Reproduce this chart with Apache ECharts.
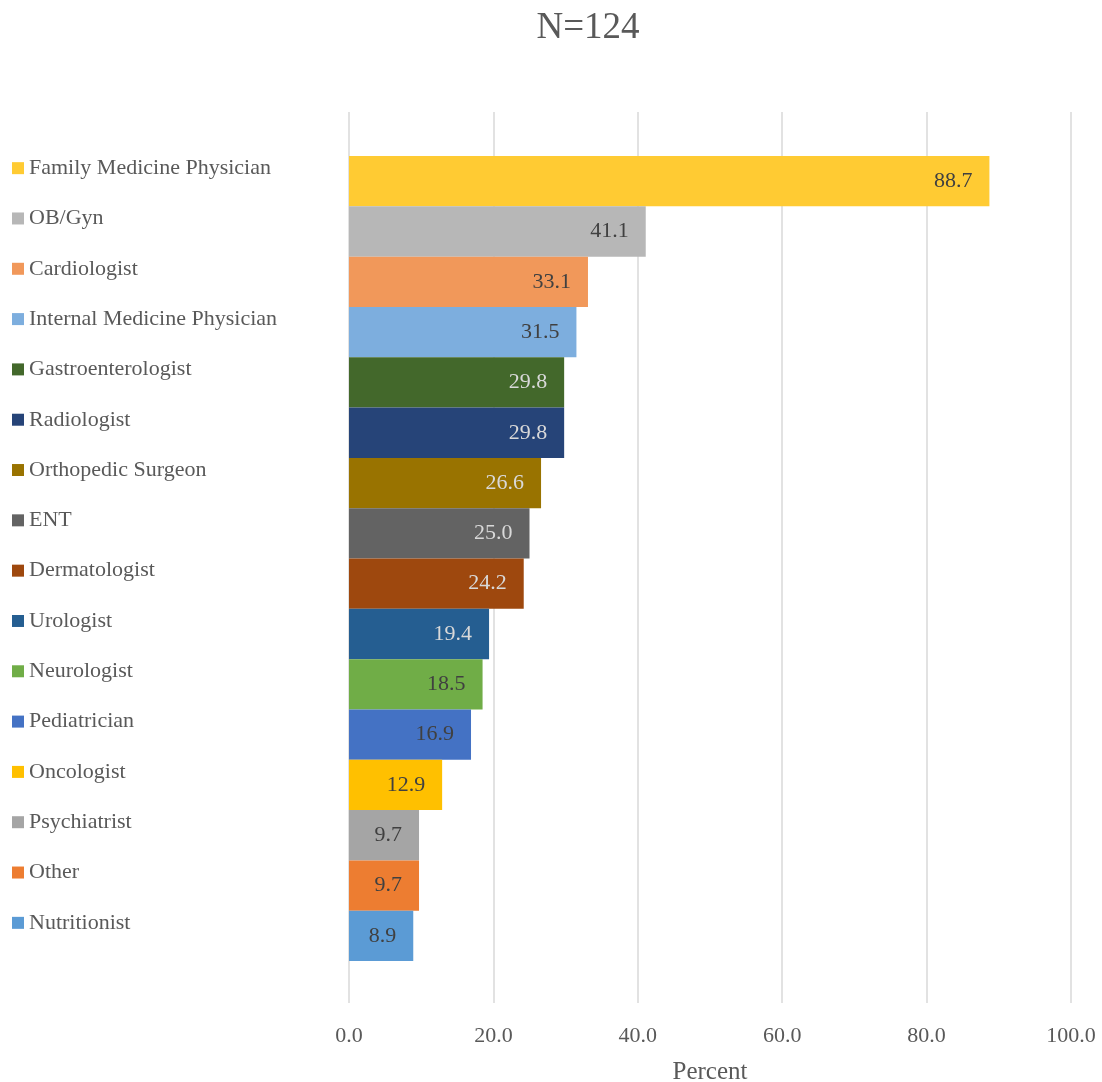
<!DOCTYPE html>
<html>
<head>
<meta charset="utf-8">
<style>
  html, body { margin: 0; padding: 0; background: #fff; }
  #chart { width: 1102px; height: 1082px; }
</style>
<script src="https://cdn.jsdelivr.net/npm/echarts@6/dist/echarts.min.js"></script>
</head>
<body>
<div id="chart"></div>
<script>
// Specialists seen, percent of respondents
const categories = [
  'Family Medicine Physician', 'OB/Gyn', 'Cardiologist', 'Internal Medicine Physician',
  'Gastroenterologist', 'Radiologist', 'Orthopedic Surgeon', 'ENT', 'Dermatologist',
  'Urologist', 'Neurologist', 'Pediatrician', 'Oncologist', 'Psychiatrist', 'Other', 'Nutritionist'
];
const percents = [88.7, 41.1, 33.1, 31.5, 29.8, 29.8, 26.6, 25.0, 24.2, 19.4, 18.5, 16.9, 12.9, 9.7, 9.7, 8.9];
const barColors = [
  '#FFCB33', '#B7B7B7', '#F1985A', '#7DAEDE', '#43682B', '#264478', '#997300', '#636363',
  '#9E480E', '#255E91', '#70AD47', '#4472C4', '#FFC000', '#A5A5A5', '#ED7D31', '#5B9BD5'
];
const labelColors = [
  '#404040', '#404040', '#404040', '#404040', '#D9D9D9', '#D9D9D9', '#D9D9D9', '#D9D9D9',
  '#D9D9D9', '#D9D9D9', '#404040', '#404040', '#404040', '#404040', '#404040', '#404040'
];
const xTicks = [0, 20, 40, 60, 80, 100];

const FONT = '"Liberation Serif", "DejaVu Serif", serif';

const rich = { t: { fontFamily: FONT, fontSize: 22, color: '#595959', padding: [0, 0, 0, 5] } };
barColors.forEach((c, i) => {
  rich['s' + i] = { backgroundColor: c, width: 12, height: 12 };
});

const chart = echarts.init(document.getElementById('chart'), null, { renderer: 'canvas' });
chart.setOption({
  animation: false,
  backgroundColor: '#ffffff',
  title: {
    text: 'N=124',
    left: 583,
    textAlign: 'center',
    top: 5,
    textStyle: { fontFamily: FONT, fontSize: 37, fontWeight: 'normal', color: '#595959' }
  },
  grid: [
    { left: 349, right: 31, top: 156, height: 805, outerBoundsMode: 'none', containLabel: false },
    { left: 349, right: 31, top: 112, bottom: 79, outerBoundsMode: 'none', containLabel: false }
  ],
  xAxis: [
    {
      gridIndex: 0, type: 'value', min: 0, max: 100, interval: 20,
      show: false
    },
    {
      gridIndex: 1, type: 'value', min: xTicks[0], max: xTicks[xTicks.length - 1], interval: 20,
      axisLine: { show: false }, axisTick: { show: false },
      splitLine: { show: true, lineStyle: { color: '#D9D9D9', width: 1.5 } },
      axisLabel: {
        margin: 22, fontFamily: FONT, fontSize: 22, color: '#595959',
        formatter: v => v.toFixed(1)
      },
      name: 'Percent', nameLocation: 'middle', nameGap: 57,
      nameTextStyle: { fontFamily: FONT, fontSize: 25, color: '#595959' }
    }
  ],
  yAxis: [
    {
      gridIndex: 0, type: 'category', data: categories, inverse: true,
      axisLine: { show: false }, axisTick: { show: false }, splitLine: { show: false },
      axisLabel: {
        align: 'left', margin: 337,
        padding: [0, 0, 26, 0],
        formatter: (v, i) => '{s' + i + '|}{t|' + v + '}',
        rich: rich
      }
    },
    {
      gridIndex: 1, type: 'category', data: [''], show: false
    }
  ],
  series: [
    {
      type: 'bar',
      xAxisIndex: 0, yAxisIndex: 0,
      barCategoryGap: 0,
      data: percents.map((v, i) => ({
        value: v,
        itemStyle: { color: barColors[i] },
        label: { color: labelColors[i] }
      })),
      label: {
        show: true, position: 'insideRight', distance: 17,
        fontFamily: FONT, fontSize: 22,
        formatter: p => p.value.toFixed(1)
      }
    }
  ]
});
</script>
</body>
</html>
